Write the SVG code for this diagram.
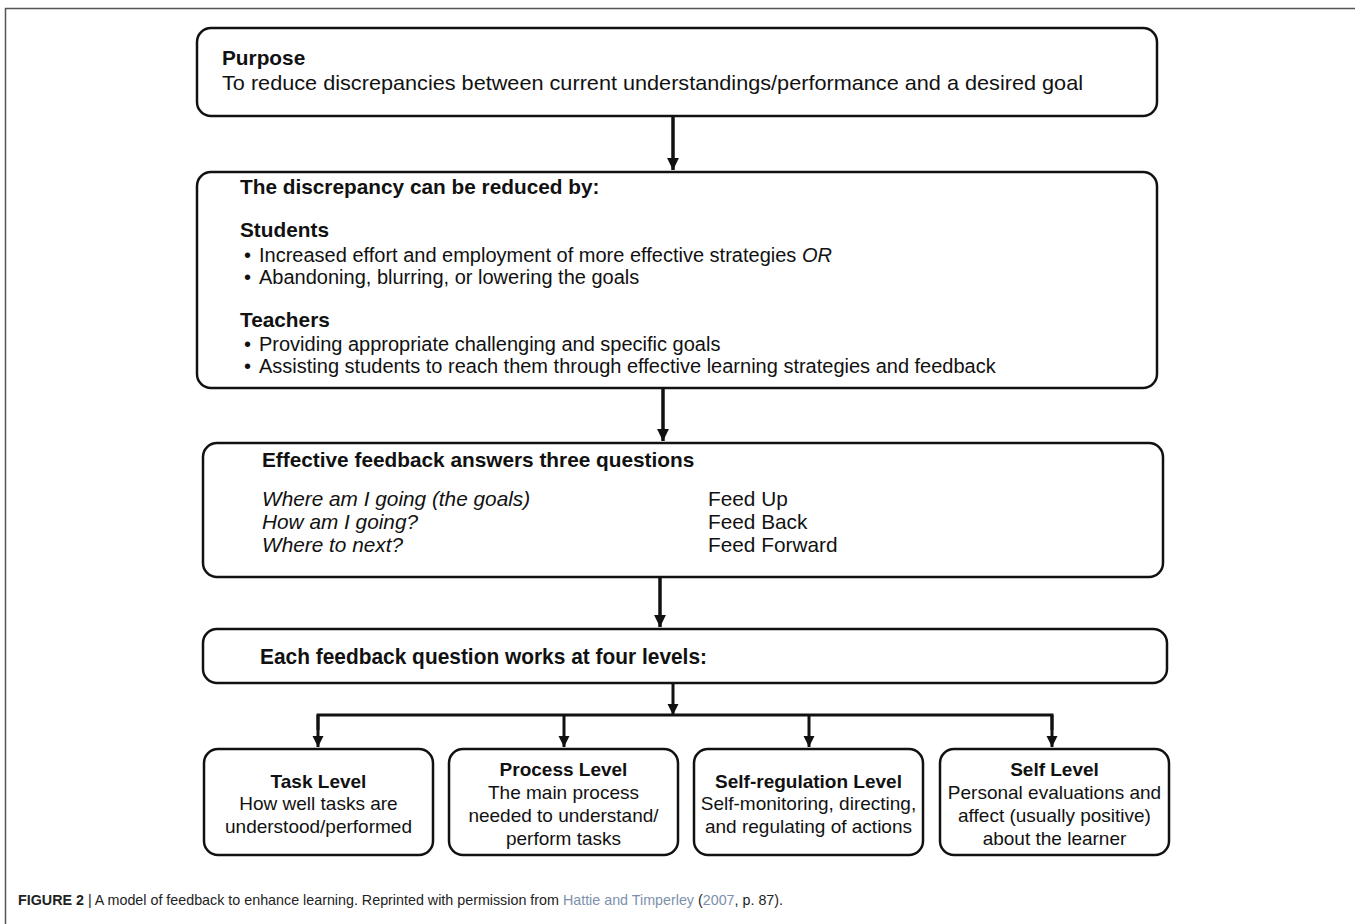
<svg xmlns="http://www.w3.org/2000/svg" width="1355" height="924" viewBox="0 0 1355 924">
<style>
text{font-family:"Liberation Sans",Arial,sans-serif;fill:#111;}
.box{fill:#fff;stroke:#111;stroke-width:2.5;}
.t{font-size:19px;}
.m{font-size:20px;}
.h{font-size:20.8px;}
.b{font-weight:bold;}
.i{font-style:italic;}
.c{text-anchor:middle;}
.ln{fill:none;stroke:#111;stroke-width:3.5;}
.ln2{fill:none;stroke:#111;stroke-width:3;}
.frame{fill:none;stroke:#555;stroke-width:1.5;}
.cap{font-size:14.3px;fill:#222;}
.link{fill:#7d91ad;}
</style>
<defs>
<marker id="ah" viewBox="0 0 10 10" refX="10" refY="5" markerWidth="3.4" markerHeight="3.8" orient="auto" markerUnits="strokeWidth">
<path d="M0,0 L10,5 L0,10 Z" fill="#111"/>
</marker>
<marker id="ah2" viewBox="0 0 10 10" refX="10" refY="5" markerWidth="3.8" markerHeight="4.2" orient="auto" markerUnits="strokeWidth">
<path d="M0,0 L10,5 L0,10 Z" fill="#111"/>
</marker>
</defs>
<rect width="1355" height="924" fill="#fff"/>
<path class="frame" d="M1355,8.5 H5.5 V924"/>

<g id="purpose">
<rect class="box" x="197" y="28" width="960" height="88" rx="14"/>
<text class="h b" x="222" y="65">Purpose</text>
<text class="h" x="222" y="90" textLength="861" lengthAdjust="spacingAndGlyphs">To reduce discrepancies between current understandings/performance and a desired goal</text>
</g>

<g id="discrepancy">
<rect class="box" x="197" y="172" width="960" height="216" rx="14"/>
<text class="h b" x="240" y="194">The discrepancy can be reduced by:</text>
<text class="h b" x="240" y="237">Students</text>
<text class="m" x="244" y="262">•</text>
<text class="m" x="259" y="262">Increased effort and employment of more effective strategies <tspan class="i">OR</tspan></text>
<text class="m" x="244" y="284">•</text>
<text class="m" x="259" y="284">Abandoning, blurring, or lowering the goals</text>
<text class="h b" x="240" y="327">Teachers</text>
<text class="m" x="244" y="351">•</text>
<text class="m" x="259" y="351">Providing appropriate challenging and specific goals</text>
<text class="m" x="244" y="373">•</text>
<text class="m" x="259" y="373">Assisting students to reach them through effective learning strategies and feedback</text>
</g>

<g id="questions">
<rect class="box" x="203" y="443" width="960" height="134" rx="14"/>
<text class="h b" x="262" y="467">Effective feedback answers three questions</text>
<text class="h i" x="262" y="506">Where am I going (the goals)</text>
<text class="h i" x="262" y="529">How am I going?</text>
<text class="h i" x="262" y="552">Where to next?</text>
<text class="h" x="708" y="506">Feed Up</text>
<text class="h" x="708" y="529">Feed Back</text>
<text class="h" x="708" y="552">Feed Forward</text>
</g>

<g id="levels">
<rect class="box" x="203" y="629" width="964" height="54" rx="14"/>
<text class="b" style="font-size:22px" x="260" y="664" textLength="447" lengthAdjust="spacingAndGlyphs">Each feedback question works at four levels:</text>
</g>

<g id="task">
<rect class="box" x="204" y="749" width="229" height="106" rx="14"/>
<text class="t b c" x="318.5" y="788">Task Level</text>
<text class="t c" x="318.5" y="810">How well tasks are</text>
<text class="t c" x="318.5" y="833">understood/performed</text>
</g>

<g id="process">
<rect class="box" x="449" y="749" width="229" height="106" rx="14"/>
<text class="t b c" x="563.5" y="776">Process Level</text>
<text class="t c" x="563.5" y="799">The main process</text>
<text class="t c" x="563.5" y="822">needed to understand/</text>
<text class="t c" x="563.5" y="845">perform tasks</text>
</g>

<g id="selfreg">
<rect class="box" x="694" y="749" width="229" height="106" rx="14"/>
<text class="t b c" x="808.5" y="788">Self-regulation Level</text>
<text class="t c" x="808.5" y="810">Self-monitoring, directing,</text>
<text class="t c" x="808.5" y="833">and regulating of actions</text>
</g>

<g id="self">
<rect class="box" x="940" y="749" width="229" height="106" rx="14"/>
<text class="t b c" x="1054.5" y="776">Self Level</text>
<text class="t c" x="1054.5" y="799">Personal evaluations and</text>
<text class="t c" x="1054.5" y="822">affect (usually positive)</text>
<text class="t c" x="1054.5" y="845">about the learner</text>
</g>

<g id="connectors">
<line class="ln" x1="673" y1="117" x2="673" y2="170" marker-end="url(#ah)"/>
<line class="ln" x1="663" y1="389" x2="663" y2="441" marker-end="url(#ah)"/>
<line class="ln" x1="660" y1="578" x2="660" y2="627" marker-end="url(#ah)"/>
<line class="ln2" x1="673" y1="684" x2="673" y2="715" marker-end="url(#ah2)"/>
<path class="ln2" d="M318,730 V715 H1052 V730"/>
<line class="ln2" x1="318" y1="715" x2="318" y2="747" marker-end="url(#ah2)"/>
<line class="ln2" x1="564" y1="715" x2="564" y2="747" marker-end="url(#ah2)"/>
<line class="ln2" x1="809" y1="715" x2="809" y2="747" marker-end="url(#ah2)"/>
<line class="ln2" x1="1052" y1="715" x2="1052" y2="747" marker-end="url(#ah2)"/>
</g>

<g id="caption">
<text class="cap" x="18" y="905"><tspan font-weight="bold">FIGURE 2</tspan> | A model of feedback to enhance learning. Reprinted with permission from <tspan class="link">Hattie and Timperley</tspan> (<tspan class="link">2007</tspan>, p. 87).</text>
</g>
</svg>
